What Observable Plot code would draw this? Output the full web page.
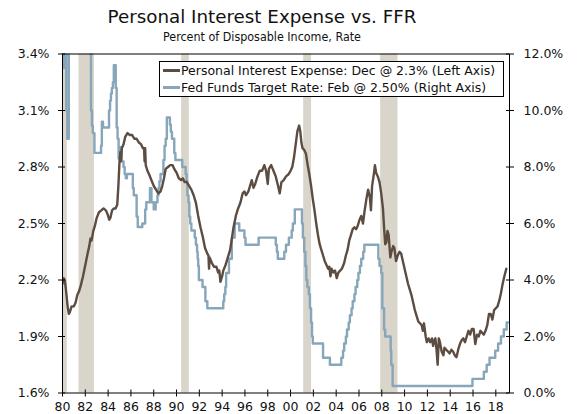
<!DOCTYPE html>
<html>
<head>
<meta charset="utf-8">
<script src="https://cdn.jsdelivr.net/npm/d3@7"></script>
<script src="https://cdn.jsdelivr.net/npm/@observablehq/plot@0.6"></script>
<style>
  html, body { margin: 0; padding: 0; background: #fff; }
  #wrap { position: relative; width: 579px; height: 414px; overflow: hidden; font-family: "DejaVu Sans", sans-serif; color: #111; }
  #title { position: absolute; left: 0; top: 6px; width: 524px; text-align: center; font-size: 18.3px; line-height: 22px; }
  #subtitle { position: absolute; left: 0; top: 29px; width: 524px; text-align: center; font-family: "DejaVu Sans Condensed", "DejaVu Sans", sans-serif; font-size: 12.4px; line-height: 15px; }
  #chart { position: absolute; left: 0; top: 46px; }
  #legend { position: absolute; left: 159px; top: 61px; width: 343px; height: 34px; border: 1px solid #000; background: #fff; font-size: 12.5px; }
  .row { position: absolute; left: 3px; height: 16px; display: flex; align-items: center; white-space: nowrap; }
  .sw { width: 17px; height: 3px; margin-right: 1px; }
</style>
</head>
<body>
<div id="wrap">
  <div id="title">Personal Interest Expense vs. FFR</div>
  <div id="subtitle">Percent of Disposable Income, Rate</div>
  <div id="chart"></div>
  <div id="legend">
    <div class="row" style="top:0px"><span class="sw" id="sw1"></span><span id="lg1"></span></div>
    <div class="row" style="top:17.5px"><span class="sw" id="sw2"></span><span id="lg2"></span></div>
  </div>
</div>
<script>
// ---- Data ----
const seriesNames = [
  "Personal Interest Expense: Dec @ 2.3% (Left Axis)",
  "Fed Funds Target Rate: Feb @ 2.50% (Right Axis)"
];
const seriesColors = ["#5c4c41", "#87a6ba"];

// Personal interest expense, % of disposable income (left axis)
const pieYears = [
  1980.0,1980.1,1980.2,1980.3,1980.45,1980.55,1980.65,1980.8,1981.0,1981.15,1981.3,1981.45,1981.6,1981.8,
  1982.0,1982.2,1982.35,1982.45,1982.55,1982.7,1982.85,1983.0,1983.2,1983.4,1983.6,1983.8,1983.95,
  1984.1,1984.2,1984.35,1984.5,1984.65,1984.8,1984.9,1985.0,1985.08,1985.12,1985.2,1985.35,1985.5,1985.7,1985.9,
  1986.1,1986.3,1986.5,1986.7,1986.9,1987.05,1987.15,1987.2,1987.25,1987.3,1987.45,1987.6,1987.8,
  1988.0,1988.2,1988.4,1988.6,1988.75,1988.9,1989.05,1989.25,1989.45,1989.65,1989.8,
  1990.0,1990.2,1990.4,1990.55,1990.7,1990.9,1991.1,1991.3,1991.5,1991.7,1991.9,
  1992.1,1992.3,1992.5,1992.7,1992.8,1992.85,1992.9,1993.1,1993.3,1993.5,1993.65,1993.75,1993.85,
  1994.0,1994.1,1994.3,1994.5,1994.7,1994.85,1995.0,1995.2,1995.4,1995.6,1995.8,1995.95,
  1996.1,1996.3,1996.5,1996.6,1996.75,1996.9,1997.1,1997.3,1997.5,1997.7,1997.85,
  1998.0,1998.1,1998.3,1998.5,1998.7,1998.9,1999.05,1999.2,1999.4,1999.6,1999.8,
  2000.0,2000.15,2000.3,2000.45,2000.6,2000.75,2000.85,2000.95,2001.05,2001.2,2001.35,2001.5,2001.65,2001.8,2001.95,
  2002.1,2002.25,2002.4,2002.55,2002.7,2002.85,2003.0,2003.15,2003.3,2003.4,2003.5,2003.6,2003.75,2003.9,
  2004.05,2004.2,2004.35,2004.5,2004.7,2004.85,2005.0,2005.15,2005.3,2005.45,2005.6,2005.75,2005.9,
  2006.05,2006.2,2006.35,2006.5,2006.65,2006.8,2006.95,2007.05,2007.15,2007.3,2007.4,2007.5,2007.65,2007.8,2007.95,
  2008.1,2008.2,2008.3,2008.4,2008.5,2008.6,2008.75,2008.85,2009.0,2009.1,2009.25,2009.4,2009.55,2009.7,2009.85,
  2010.0,2010.15,2010.3,2010.45,2010.6,2010.75,2010.9,2011.05,2011.2,2011.35,2011.5,2011.6,2011.7,2011.85,2011.95,
  2012.1,2012.25,2012.4,2012.5,2012.6,2012.7,2012.8,2012.9,2013.0,2013.1,2013.25,2013.4,2013.5,2013.65,2013.8,2013.95,
  2014.1,2014.25,2014.4,2014.55,2014.7,2014.85,2015.0,2015.15,2015.3,2015.45,2015.6,2015.75,2015.9,
  2016.05,2016.2,2016.35,2016.5,2016.65,2016.8,2016.95,2017.1,2017.25,2017.4,2017.55,2017.7,2017.85,
  2018.0,2018.15,2018.3,2018.45,2018.6,2018.75,2018.92
];
const pieValues = [
  2.18,2.21,2.20,2.15,2.06,2.02,2.03,2.06,2.06,2.08,2.12,2.14,2.17,2.22,
  2.28,2.34,2.38,2.42,2.41,2.46,2.49,2.53,2.56,2.57,2.58,2.57,2.55,
  2.52,2.53,2.57,2.58,2.58,2.60,2.70,2.83,2.88,2.83,2.90,2.92,2.96,2.98,2.97,
  2.97,2.95,2.95,2.93,2.92,2.90,2.90,2.83,2.90,2.81,2.78,2.76,2.73,
  2.70,2.68,2.66,2.67,2.70,2.74,2.79,2.80,2.81,2.81,2.79,
  2.77,2.74,2.73,2.74,2.72,2.72,2.70,2.68,2.65,2.61,2.54,
  2.48,2.43,2.37,2.34,2.33,2.26,2.32,2.29,2.27,2.27,2.24,2.25,2.19,
  2.22,2.25,2.28,2.32,2.36,2.42,2.48,2.54,2.58,2.61,2.66,2.67,
  2.65,2.67,2.71,2.73,2.69,2.71,2.75,2.78,2.78,2.81,2.78,
  2.71,2.79,2.81,2.78,2.75,2.70,2.66,2.72,2.73,2.75,2.76,
  2.78,2.80,2.85,2.92,2.99,3.02,2.99,2.93,2.90,2.89,2.87,2.81,2.76,2.70,2.63,
  2.57,2.50,2.44,2.39,2.36,2.33,2.30,2.28,2.26,2.27,2.22,2.26,2.24,2.25,
  2.21,2.24,2.25,2.26,2.29,2.33,2.36,2.41,2.44,2.47,2.48,2.47,2.49,
  2.52,2.54,2.50,2.57,2.63,2.68,2.64,2.57,2.70,2.76,2.81,2.77,2.75,2.72,2.66,
  2.58,2.48,2.39,2.40,2.46,2.44,2.32,2.35,2.38,2.37,2.30,2.33,2.35,2.34,2.30,
  2.26,2.22,2.18,2.15,2.12,2.08,2.04,2.01,1.98,1.97,1.96,1.93,1.97,1.90,1.87,
  1.89,1.87,1.89,1.85,1.88,1.89,1.83,1.75,1.89,1.87,1.82,1.80,1.84,1.83,1.82,1.81,
  1.83,1.82,1.80,1.79,1.83,1.86,1.88,1.89,1.87,1.90,1.93,1.91,1.94,
  1.94,1.86,1.91,1.90,1.93,1.92,1.91,1.93,1.96,2.02,2.02,1.99,2.04,
  2.05,2.06,2.09,2.13,2.18,2.22,2.26
];

// Fed funds target rate, % (right axis) — value holds from each date until the next
const ffrYears = [
  1980.0,1980.12,1980.17,1980.33,1980.42,1980.55,1981.0,1982.0,1982.5,1982.58,1982.66,1982.8,
  1983.38,1983.45,1983.55,1984.08,1984.17,1984.25,1984.33,1984.42,1984.5,1984.67,1984.75,1984.83,1984.92,
  1985.08,1985.2,1985.35,1985.45,1985.55,1985.65,1986.17,1986.25,1986.5,1986.6,
  1987.0,1987.25,1987.35,1987.67,1987.8,1988.0,1988.17,1988.33,1988.42,1988.5,1988.6,1988.85,1988.95,
  1989.05,1989.15,1989.42,1989.5,1989.6,1989.8,1989.9,1990.5,1990.8,1990.88,1990.95,
  1991.05,1991.12,1991.2,1991.3,1991.6,1991.7,1991.8,1991.85,1991.9,1991.96,
  1992.28,1992.53,1992.7,1994.1,1994.18,1994.28,1994.35,1994.6,1994.85,1995.1,1995.5,1995.95,1996.05,1997.2,
  1998.7,1998.8,1998.88,1999.45,1999.6,1999.85,2000.1,2000.2,2000.37,
  2001.0,2001.08,2001.2,2001.3,2001.38,2001.47,2001.6,2001.7,2001.8,2001.88,2001.95,2002.85,2003.45,
  2004.45,2004.6,2004.7,2004.85,2004.95,2005.1,2005.2,2005.35,2005.45,2005.6,2005.7,2005.85,2005.95,
  2006.08,2006.2,2006.37,2006.47,2007.7,2007.8,2007.95,2008.05,2008.2,2008.3,2008.78,2008.83,2008.95,
  2015.95,2016.95,2017.2,2017.45,2017.95,2018.2,2018.45,2018.7,2018.95,2019.1
];
const ffrValues = [
  13.8,11.5,15.0,10.0,9.0,14.0,19.0,14.5,10.0,9.45,9.2,8.5,
  8.75,9.6,9.4,10.0,10.35,10.6,10.8,11.0,11.6,10.8,9.4,9.0,8.3,
  8.7,8.2,8.0,7.75,7.6,7.75,7.25,7.0,6.25,5.875,
  6.0,6.5,6.75,7.25,6.75,6.5,6.75,7.0,7.25,7.5,7.75,8.25,8.75,
  9.0,9.75,9.5,9.25,9.0,8.5,8.25,8.0,7.75,7.5,7.0,
  6.75,6.25,6.0,5.75,5.5,5.25,5.0,4.75,4.5,4.0,
  3.75,3.25,3.0,3.25,3.5,3.75,4.25,4.75,5.5,6.0,5.75,5.5,5.25,5.5,
  5.25,5.0,4.75,5.0,5.25,5.5,5.75,6.0,6.5,
  6.0,5.5,5.0,4.5,4.0,3.75,3.5,3.0,2.5,2.0,1.75,1.25,1.0,
  1.25,1.5,1.75,2.0,2.25,2.5,2.75,3.0,3.25,3.5,3.75,4.0,4.25,
  4.5,4.75,5.0,5.25,4.75,4.5,4.25,3.0,2.25,2.0,1.5,1.0,0.25,
  0.5,0.75,1.0,1.25,1.5,1.75,2.0,2.25,2.5,2.5
];

// Recession periods (shaded)
const recessionStarts = [1980.0, 1981.45, 1990.45, 2001.15, 2007.9];
const recessionEnds   = [1980.42, 1982.8, 1991.12, 2001.84, 2009.42];

// Axes
const xTicks = d3.range(1980, 2019, 2);
const leftTicks = [1.6, 1.9, 2.2, 2.5, 2.8, 3.1, 3.4];
const rightTicks = [0, 2, 4, 6, 8, 10, 12];
const leftDomain = [1.6, 3.4];
const rightDomain = [0, 12];
const xDomain = [1980, 2019.2];

// ---- Build ----
const toLeft = r => leftDomain[0] + (r - rightDomain[0]) * (leftDomain[1] - leftDomain[0]) / (rightDomain[1] - rightDomain[0]);
const fromLeft = v => rightDomain[0] + (v - leftDomain[0]) * (rightDomain[1] - rightDomain[0]) / (leftDomain[1] - leftDomain[0]);

const pie = pieYears.map((x, i) => ({x, v: pieValues[i]}));
const ffr = ffrYears.map((x, i) => ({x, v: toLeft(ffrValues[i])}));
const rec = recessionStarts.map((s, i) => ({s, e: recessionEnds[i]}));

const width = 579, height = 368;
const mL = 62, mR = 70, mT = 7.5, mB = 21.5;
const innerW = width - mL - mR, innerH = height - mT - mB;

const chart = Plot.plot({
  width, height,
  marginLeft: mL, marginRight: mR, marginTop: mT, marginBottom: mB,
  style: {fontFamily: "DejaVu Sans, sans-serif", fontSize: "12.5px", color: "#111", background: "#fff"},
  x: {domain: xDomain},
  y: {domain: leftDomain},
  marks: [
    Plot.rect(rec, {x1: "s", x2: "e", fill: "#d9d5ca"}),
    Plot.line(ffr, {x: "x", y: "v", curve: "step-after", stroke: seriesColors[1], strokeWidth: 2.4, clip: true}),
    Plot.line(pie, {x: "x", y: "v", stroke: seriesColors[0], strokeWidth: 2.4, clip: true}),
    Plot.frame({stroke: "#000", strokeWidth: 1}),
    Plot.axisX({ticks: xTicks, tickFormat: d => String(d).slice(2), tickSize: 4, tickPadding: 5, label: null, stroke: "#000"}),
    Plot.tickX(xTicks, {x: d => d, insetTop: innerH - 3, stroke: "#000"}),
    Plot.axisY({anchor: "left", ticks: leftTicks, tickFormat: d => d.toFixed(1) + "%", tickSize: 4, tickPadding: 9, label: null, stroke: "#000"}),
    Plot.tickY(leftTicks, {y: d => d, insetRight: innerW - 3, stroke: "#000"}),
    Plot.axisY({anchor: "right", ticks: rightTicks.map(toLeft), tickFormat: v => fromLeft(v).toFixed(1) + "%", tickSize: 4, tickPadding: 10, label: null, stroke: "#000"}),
    Plot.tickY(rightTicks.map(toLeft), {y: d => d, insetLeft: innerW - 3, stroke: "#000"})
  ]
});
document.getElementById("chart").appendChild(chart);

document.getElementById("lg1").textContent = seriesNames[0];
document.getElementById("lg2").textContent = seriesNames[1];
document.getElementById("sw1").style.background = seriesColors[0];
document.getElementById("sw2").style.background = seriesColors[1];
</script>
</body>
</html>
